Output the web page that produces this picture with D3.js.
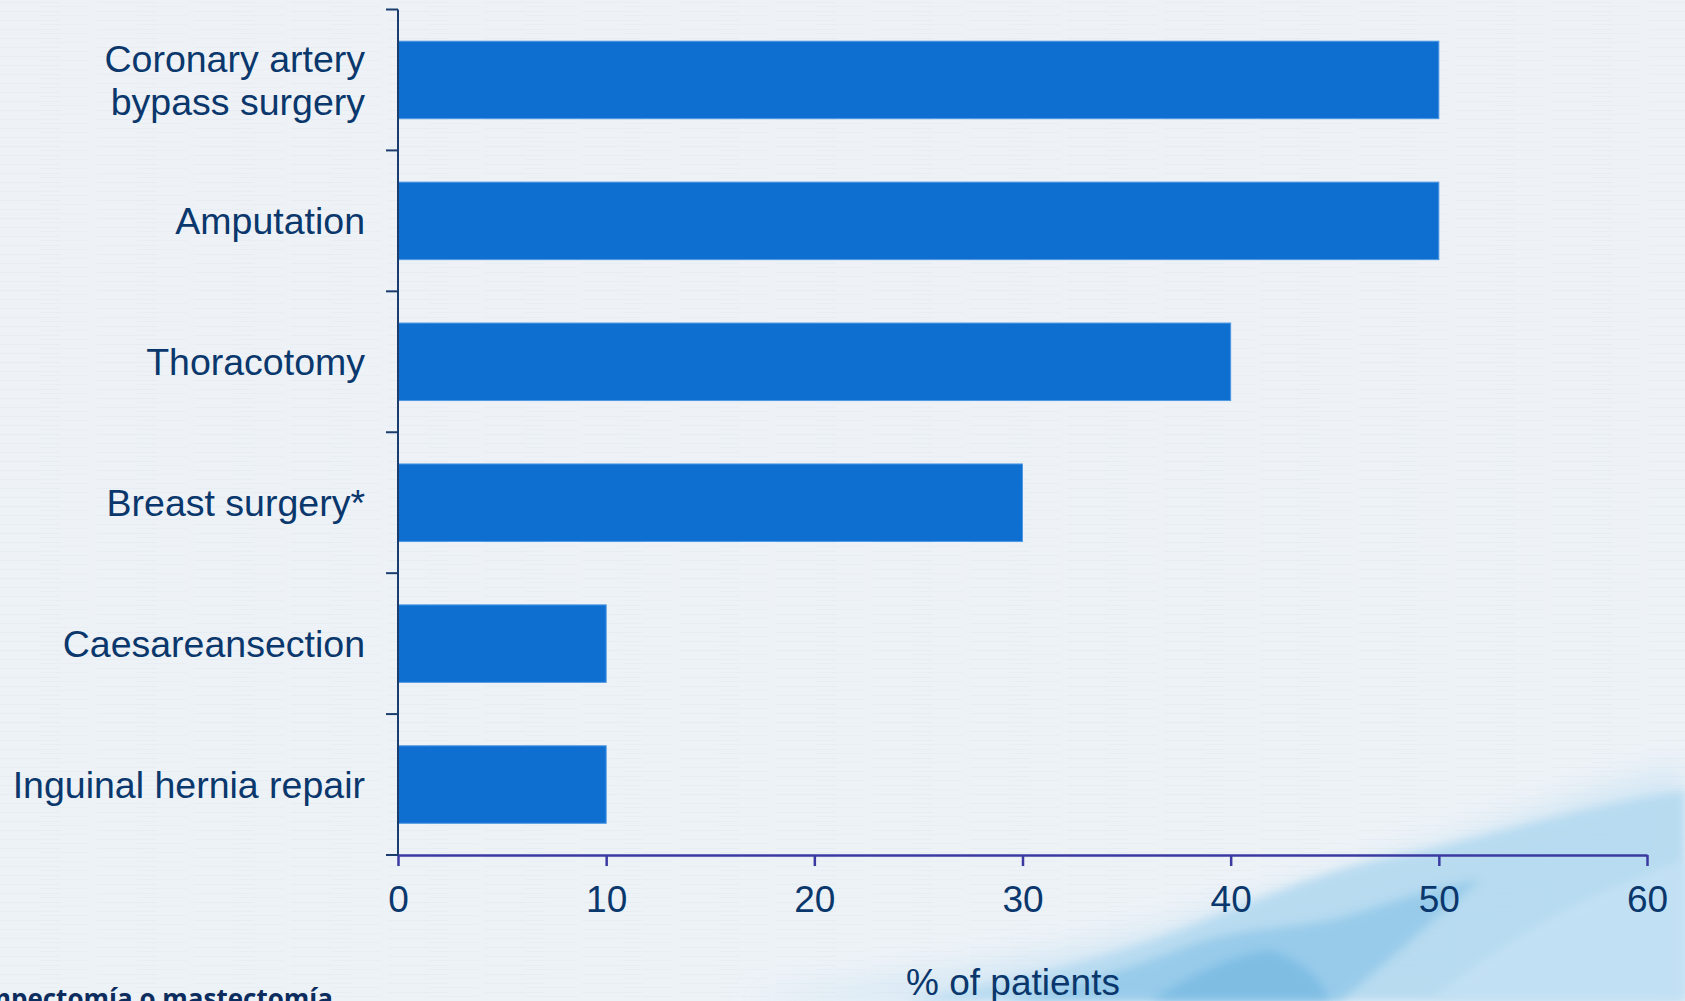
<!DOCTYPE html>
<html>
<head>
<meta charset="utf-8">
<script src="https://cdn.jsdelivr.net/npm/d3@7"></script>
<style>
html,body{margin:0;padding:0;background:#eef2f6;overflow:hidden;}
svg{display:block;}
</style>
</head>
<body>
<svg id="chart" width="1685" height="1001"></svg>
<script>
const categories = [
  ["Coronary artery", "bypass surgery"],
  ["Amputation"],
  ["Thoracotomy"],
  ["Breast surgery*"],
  ["Caesareansection"],
  ["Inguinal hernia repair"]
];
const values = [50, 50, 40, 30, 10, 10];
const xTicks = [0, 10, 20, 30, 40, 50, 60];
const xTitle = "% of patients";
const footnote = "*Lumpectomía o mastectomía";

const svg = d3.select("#chart");
const W = 1685, H = 1001;
const defs = svg.append("defs");

// background
const bg = defs.append("linearGradient").attr("id","bg").attr("x1",0).attr("y1",0).attr("x2",0).attr("y2",1);
bg.append("stop").attr("offset","0%").attr("stop-color","#eef2f6");
bg.append("stop").attr("offset","100%").attr("stop-color","#edf2f7");
svg.append("rect").attr("width",W).attr("height",H).attr("fill","url(#bg)");

// faint paper texture
const pat = defs.append("pattern").attr("id","tex").attr("width",97).attr("height",9).attr("patternUnits","userSpaceOnUse");
pat.append("rect").attr("x",0).attr("y",2).attr("width",60).attr("height",1).attr("fill","#dfe6ee").attr("opacity",0.45);
pat.append("rect").attr("x",40).attr("y",6).attr("width",50).attr("height",1).attr("fill","#e3e9f0").attr("opacity",0.45);
svg.append("rect").attr("width",W).attr("height",H).attr("fill","url(#tex)");

// watercolour decoration bottom right
const blur = defs.append("filter").attr("id","blur").attr("x","-20%").attr("y","-20%").attr("width","140%").attr("height","140%");
blur.append("feGaussianBlur").attr("stdDeviation",14);
const blur2 = defs.append("filter").attr("id","blur2");
blur2.append("feGaussianBlur").attr("stdDeviation",5);
const deco = svg.append("g");
deco.append("path").attr("d","M740,1001 C900,975 1050,960 1180,920 C1320,880 1450,840 1560,800 C1620,780 1660,770 1685,765 L1685,1001 Z")
  .attr("fill","#cfe5f4").attr("opacity",0.8).attr("filter","url(#blur)");
deco.append("path").attr("d","M900,1001 C1000,985 1100,960 1180,930 C1260,900 1320,870 1400,855 C1480,840 1560,810 1685,790 L1685,1001 Z")
  .attr("fill","#b3d9f0").attr("opacity",0.85).attr("filter","url(#blur2)");
deco.append("path").attr("d","M1000,1001 C1080,985 1140,965 1190,945 C1250,925 1300,930 1350,915 C1400,900 1440,885 1480,880 C1420,930 1380,970 1340,1001 Z")
  .attr("fill","#8ec6e8").attr("opacity",0.75).attr("filter","url(#blur2)");
deco.append("path").attr("d","M1150,1001 C1190,975 1230,955 1270,950 C1300,960 1320,975 1330,1001 Z")
  .attr("fill","#6fb5e0").attr("opacity",0.6).attr("filter","url(#blur2)");
deco.append("path").attr("d","M1430,1001 C1480,960 1560,900 1685,860 L1685,1001 Z")
  .attr("fill","#c7e3f5").attr("opacity",0.7).attr("filter","url(#blur2)");

const x0 = 398, x1 = 1647, yTop = 9.5, yBot = 855;
const x = d3.scaleLinear().domain([0, 60]).range([x0, x1]);
const y = d3.scaleBand().domain(d3.range(categories.length)).range([yTop, yBot]).paddingInner(0.45).paddingOuter(0.225);

const textColor = "#0a376c";
const font = "'Liberation Sans', Arial, sans-serif";

// bars
svg.append("g").selectAll("rect").data(values).join("rect")
  .attr("x", x(0))
  .attr("y", (d,i) => y(i))
  .attr("width", d => x(d) - x(0))
  .attr("height", y.bandwidth())
  .attr("fill", "#0e6fd1")
  .attr("stroke", "#4f98e4").attr("stroke-width", 1);

// x axis
const xAxis = svg.append("g").attr("transform", `translate(0,${yBot})`)
  .call(d3.axisBottom(x).tickValues(xTicks).tickSize(11).tickSizeOuter(0).tickPadding(20));
xAxis.select(".domain").attr("stroke", "#3a3aa2").attr("stroke-width", 2.5);
xAxis.selectAll(".tick line").attr("stroke", "#3a3aa2").attr("stroke-width", 2.5);
xAxis.selectAll(".tick text").attr("fill", textColor).attr("font-family", font).attr("font-size", 37);

// y axis (line + boundary ticks)
const yAxis = svg.append("g");
yAxis.append("line").attr("x1", x0).attr("x2", x0).attr("y1", yTop).attr("y2", yBot)
  .attr("stroke", "#1a3d6d").attr("stroke-width", 2);
const bounds = d3.range(categories.length + 1).map(i => yTop + i * y.step());
yAxis.selectAll("line.tk").data(bounds).join("line").attr("class","tk")
  .attr("x1", x0 - 12).attr("x2", x0).attr("y1", d => d).attr("y2", d => d)
  .attr("stroke", "#1a3d6d").attr("stroke-width", 2);

// category labels
const lab = svg.append("g").attr("font-family", font).attr("font-size", 37.5).attr("fill", textColor).attr("text-anchor", "end");
categories.forEach((lines, i) => {
  const cy = y(i) + y.bandwidth() / 2;
  const lh = 43;
  const t = lab.append("text").attr("x", x0 - 33);
  lines.forEach((ln, j) => {
    t.append("tspan").attr("x", x0 - 33)
      .attr("y", cy + (j - (lines.length - 1) / 2) * lh)
      .attr("dy", "0.35em").text(ln);
  });
});

// axis title
svg.append("text").attr("x", 1013).attr("y", 995).attr("text-anchor", "middle")
  .attr("font-family", font).attr("font-size", 37).attr("fill", textColor).text(xTitle);

// footnote
svg.append("text").attr("x", 333).attr("y", 1008).attr("text-anchor", "end")
  .attr("font-family", "'Open Sans', sans-serif").attr("font-weight", 700).attr("font-size", 26)
  .attr("fill", "#0c2d5e").text(footnote);
</script>
</body>
</html>
